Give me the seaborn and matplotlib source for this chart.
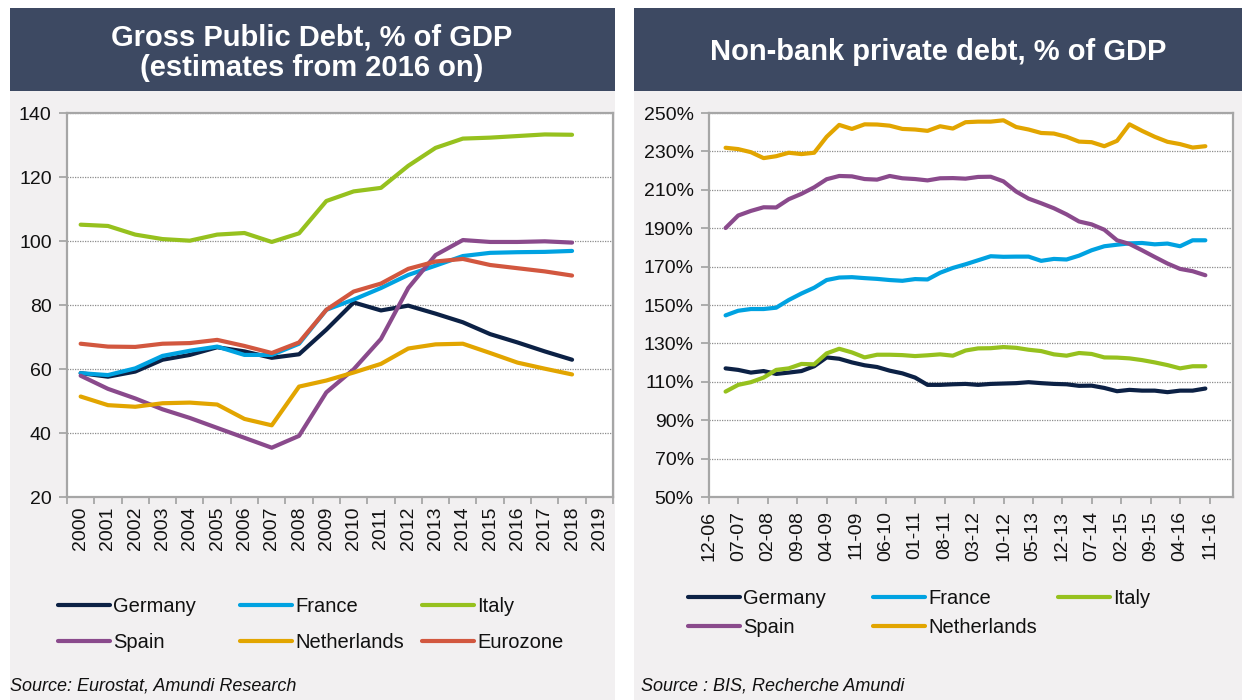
import numpy as np
import pandas as pd
import matplotlib
matplotlib.use("Agg")
import matplotlib.pyplot as plt
import matplotlib.dates as mdates
from matplotlib.patches import Rectangle
from matplotlib.ticker import FixedLocator, FuncFormatter
from matplotlib.lines import Line2D
from matplotlib.legend import Legend
import seaborn as sns

# ---------------- data: gross public debt, % of GDP ----------------
years = list(range(2000, 2019))
year_ticks = list(range(2000, 2020))
public_germany = [58.7, 57.6, 59.2, 62.9, 64.4, 66.8, 65.5, 63.5, 64.6, 72.3,
                  80.8, 78.3, 79.8, 77.3, 74.6, 70.9, 68.3, 65.5, 62.9]
public_france = [58.7, 58.1, 60.2, 64.1, 65.7, 67.0, 64.4, 64.4, 67.9, 78.5,
                 81.7, 85.3, 89.4, 92.3, 95.3, 96.3, 96.5, 96.6, 96.9]
public_italy = [105.1, 104.7, 102.0, 100.6, 100.1, 102.0, 102.5, 99.7, 102.4, 112.5,
                115.5, 116.6, 123.5, 129.1, 132.0, 132.3, 132.8, 133.3, 133.2]
public_spain = [57.9, 53.8, 50.8, 47.4, 44.7, 41.6, 38.5, 35.4, 39.1, 52.7,
                59.9, 69.4, 85.3, 95.6, 100.3, 99.7, 99.7, 99.9, 99.5]
public_netherlands = [51.4, 48.7, 48.2, 49.3, 49.5, 48.9, 44.4, 42.4, 54.5, 56.4,
                      58.9, 61.6, 66.4, 67.7, 67.9, 65.0, 62.0, 60.1, 58.3]
public_eurozone = [67.9, 67.0, 66.9, 67.9, 68.1, 69.1, 67.2, 65.0, 68.3, 78.5,
                   84.2, 86.7, 91.3, 93.6, 94.4, 92.5, 91.5, 90.5, 89.2]

# ---------------- data: non-bank private debt, % of GDP (quarterly) ----------------
quarters = pd.date_range("2007-03-31", "2016-09-30", freq="QE")
private_germany = [117.0, 116.2, 114.8, 115.6, 114.1, 114.8, 115.6, 118.1, 122.7, 122.0,
                   120.1, 118.6, 117.7, 115.8, 114.4, 112.2, 108.4, 108.4, 108.7, 108.9,
                   108.4, 108.9, 109.1, 109.3, 109.8, 109.3, 108.9, 108.7, 107.9, 108.0,
                   106.8, 105.1, 105.8, 105.4, 105.4, 104.6, 105.4, 105.4, 106.5]
private_france = [144.6, 147.0, 147.9, 147.9, 148.6, 152.6, 156.0, 159.0, 163.0, 164.3,
                  164.5, 164.0, 163.6, 163.0, 162.6, 163.5, 163.3, 166.8, 169.3, 171.2,
                  173.3, 175.4, 175.1, 175.2, 175.2, 173.0, 174.0, 173.7, 175.7, 178.5,
                  180.6, 181.4, 182.1, 182.3, 181.6, 182.0, 180.6, 183.7, 183.7]
private_italy = [104.9, 108.4, 109.8, 112.2, 116.2, 117.0, 119.3, 119.1, 124.8, 127.2,
                 125.3, 122.7, 124.1, 124.1, 123.9, 123.4, 123.8, 124.3, 123.6, 126.3,
                 127.4, 127.5, 128.1, 127.7, 126.7, 126.0, 124.3, 123.6, 125.0, 124.5,
                 122.7, 122.6, 122.2, 121.3, 120.1, 118.7, 117.0, 118.1, 118.1]
private_spain = [190.1, 196.6, 199.0, 200.9, 200.8, 205.1, 207.9, 211.3, 215.5, 217.2,
                 217.0, 215.6, 215.3, 217.2, 216.0, 215.6, 214.9, 216.0, 216.1, 215.8,
                 216.7, 216.8, 214.4, 209.1, 205.4, 203.0, 200.4, 197.2, 193.5, 192.0,
                 189.2, 183.7, 181.8, 178.5, 175.0, 171.6, 168.8, 167.6, 165.5]
private_netherlands = [231.9, 231.2, 229.6, 226.5, 227.5, 229.3, 228.6, 229.3, 237.6, 243.8,
                       241.7, 244.1, 244.0, 243.4, 241.7, 241.4, 240.7, 243.1, 241.9, 245.2,
                       245.5, 245.5, 246.2, 242.7, 241.4, 239.6, 239.3, 237.6, 235.1, 234.8,
                       232.7, 235.5, 244.1, 240.7, 237.6, 235.0, 233.8, 232.0, 232.7]
private_ticks = ["12-06", "07-07", "02-08", "09-08", "04-09", "11-09", "06-10", "01-11",
                 "08-11", "03-12", "10-12", "05-13", "12-13", "07-14", "02-15", "09-15",
                 "04-16", "11-16"]

colors = {
    "Germany": "#0c2145",
    "France": "#00a2e1",
    "Italy": "#96c11e",
    "Spain": "#8a4a8c",
    "Netherlands": "#e2a500",
    "Eurozone": "#d2573f",
}

public = {
    "Germany": public_germany, "France": public_france, "Italy": public_italy,
    "Spain": public_spain, "Netherlands": public_netherlands, "Eurozone": public_eurozone,
}
private = {
    "Germany": private_germany, "France": private_france, "Italy": private_italy,
    "Spain": private_spain, "Netherlands": private_netherlands,
}

sns.set_theme(style="white")
plt.rcParams["font.family"] = ["Liberation Sans", "DejaVu Sans"]

W, H = 1242, 700
fig = plt.figure(figsize=(W / 100, H / 100), dpi=100, facecolor="white")

HEADER = "#3d4962"
PANEL = "#f2f0f1"
SPINE = "#a6a6a6"
TEXT = "#111111"


def px_rect(x0, y0, x1, y1, color):
    fig.patches.append(Rectangle((x0 / W, 1 - y1 / H), (x1 - x0) / W, (y1 - y0) / H,
                                 transform=fig.transFigure, facecolor=color,
                                 edgecolor="none", zorder=-10))


# panels and header bands
px_rect(10, 8, 615, 700, PANEL)
px_rect(634, 8, 1242, 700, PANEL)
px_rect(10, 8, 615, 91, HEADER)
px_rect(634, 8, 1242, 91, HEADER)

fig.text(312 / W, 1 - 53 / H, "Gross Public Debt, % of GDP\n(estimates from 2016 on)",
         ha="center", va="center", color="white", fontsize=21, fontweight="bold",
         linespacing=1.12)
fig.text(938 / W, 1 - 52 / H, "Non-bank private debt, % of GDP",
         ha="center", va="center", color="white", fontsize=21, fontweight="bold")


def make_ax(x0, x1, y0=113, y1=497):
    ax = fig.add_axes([x0 / W, 1 - y1 / H, (x1 - x0) / W, (y1 - y0) / H])
    ax.set_facecolor("white")
    for sp in ax.spines.values():
        sp.set_visible(True)
        sp.set_color(SPINE)
        sp.set_linewidth(1.6)
    ax.yaxis.grid(True, linestyle=(0, (1, 1)), color="#8c8c8c", linewidth=0.9)
    ax.xaxis.grid(False)
    ax.set_axisbelow(True)
    ax.tick_params(axis="y", which="major", direction="out", length=6, width=1.3,
                   color=SPINE, labelsize=14, pad=5, left=True, labelcolor=TEXT)
    return ax


# ---------------- left chart ----------------
axL = make_ax(67, 613)
left_handles = {}
for name, vals in public.items():
    sns.lineplot(x=years, y=vals, ax=axL, color=colors[name], linewidth=3.0,
                 legend=False, sort=False)
    left_handles[name] = Line2D([], [], color=colors[name], linewidth=3.0,
                                solid_capstyle="round")
axL.set_ylim(20, 140)
axL.set_yticks(range(20, 141, 20))
axL.set_xlim(min(year_ticks) - 0.5, max(year_ticks) + 0.5)
axL.set_xticks(year_ticks)
axL.set_xticklabels([str(y) for y in year_ticks], rotation=90)
axL.xaxis.set_minor_locator(FixedLocator(np.arange(min(year_ticks) - 0.5, max(year_ticks) + 1, 1)))
axL.tick_params(axis="x", which="major", length=0, labelsize=14, pad=7, labelcolor=TEXT)
axL.tick_params(axis="x", which="minor", direction="out", length=5, width=1.3,
                color=SPINE, bottom=True)
axL.set_xlabel("")
axL.set_ylabel("")

# ---------------- right chart ----------------
axR = make_ax(709, 1233)
right_handles = {}
for name, vals in private.items():
    sns.lineplot(x=quarters, y=vals, ax=axR, color=colors[name], linewidth=3.0,
                 legend=False, sort=False)
    right_handles[name] = Line2D([], [], color=colors[name], linewidth=3.0,
                                 solid_capstyle="round")
axR.set_ylim(50, 250)
axR.set_yticks(range(50, 251, 20))
axR.yaxis.set_major_formatter(FuncFormatter(lambda v, p: f"{v:.0f}%"))
tick_dates = [pd.to_datetime(t, format="%m-%y") for t in private_ticks]
axR.set_xlim(mdates.date2num(tick_dates[0]),
             mdates.date2num(pd.Timestamp("2017-04-18")))
axR.set_xticks([mdates.date2num(d) for d in tick_dates])
axR.set_xticklabels(private_ticks, rotation=90)
axR.tick_params(axis="x", which="major", direction="out", length=5, width=1.3,
                color=SPINE, labelsize=14, pad=5, bottom=True, labelcolor=TEXT)
axR.set_xlabel("")
axR.set_ylabel("")


# ---------------- legends (one per column) ----------------
def column_legend(ax, names, handles, x_px, y_px, spacing):
    leg = Legend(ax, [handles[n] for n in names], names, loc="upper left",
                 bbox_to_anchor=(x_px / W, 1 - y_px / H),
                 bbox_transform=fig.transFigure, frameon=False, fontsize=14.5,
                 handlelength=2.6, handletextpad=0.15, labelspacing=spacing,
                 borderaxespad=0, borderpad=0)
    for t in leg.get_texts():
        t.set_color(TEXT)
    ax.add_artist(leg)


column_legend(axL, ["Germany", "Spain"], left_handles, 58, 597, 0.85)
column_legend(axL, ["France", "Netherlands"], left_handles, 240, 597, 0.85)
column_legend(axL, ["Italy", "Eurozone"], left_handles, 422, 597, 0.85)

column_legend(axR, ["Germany", "Spain"], right_handles, 688, 589, 0.5)
column_legend(axR, ["France", "Netherlands"], right_handles, 873, 589, 0.5)
column_legend(axR, ["Italy"], right_handles, 1058, 589, 0.5)

fig.text(10 / W, 1 - 686 / H, "Source: Eurostat, Amundi Research", ha="left", va="center",
         fontsize=13, fontstyle="italic", color=TEXT)
fig.text(641 / W, 1 - 686 / H, "Source : BIS, Recherche Amundi", ha="left", va="center",
         fontsize=13, fontstyle="italic", color=TEXT)

fig.savefig("out.png", dpi=100, facecolor="white")
